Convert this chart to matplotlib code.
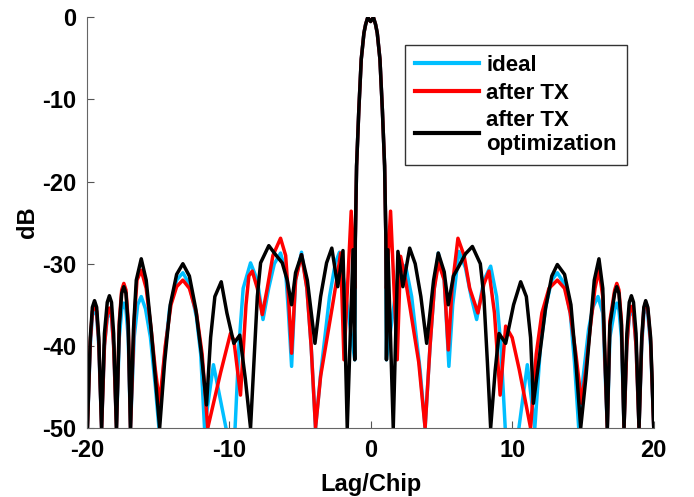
import numpy as np
import matplotlib
matplotlib.use('Agg')
import matplotlib.pyplot as plt

plt.rcParams['font.family'] = ['Liberation Sans', 'DejaVu Sans']
plt.rcParams['font.weight'] = 'bold'
plt.rcParams['axes.unicode_minus'] = False

# main lobe, shared by all three traces
lobe_x = [-1.08, -0.99, -0.83, -0.66, -0.47, -0.35, -0.2, 0.0, 0.2, 0.35, 0.47, 0.66, 0.83, 0.99, 1.08]
lobe_y = [-27.0, -18.1, -11.2, -5.1, -1.9, -0.85, 0.0, -0.5, 0.0, -0.85, -1.9, -5.1, -11.2, -18.1, -27.0]

# ideal
ideal_left_x = [-20.0, -19.8, -19.65, -19.5, -19.35, -19.2, -19.0, -18.8, -18.6, -18.45, -18.3, -18.15,
                -17.95, -17.75, -17.58, -17.43, -17.28, -17.12, -16.96, -16.7, -16.45, -16.2, -15.9,
                -15.55, -15.2, -14.95, -14.6, -14.2, -13.7, -13.26, -12.8, -12.3, -12.0, -11.73,
                -11.1, -10.1, -9.6, -9.3, -9.0, -8.48, -8.0, -7.6, -7.2, -6.8, -6.36, -6.0, -5.8,
                -5.58, -5.3, -4.88, -4.5, -4.2, -3.89, -3.5, -2.9, -2.5, -2.2, -1.9, -1.5, -1.12]
ideal_left_y = [-50, -40, -36.3, -35.5, -36.3, -40, -50, -40, -36.6, -35.8, -36.6, -40,
                -50, -39, -35.6, -34.8, -35.6, -39, -50, -39, -35, -34, -35.5,
                -39, -45, -50, -42, -35.5, -32, -31.1, -32.5, -36.5, -41, -50,
                -42.3, -51, -51, -40, -33, -29.9, -32, -36.8, -33, -30, -28.7, -31, -36,
                -42.5, -32, -28.6, -33, -40, -50, -43, -34, -30, -28.6, -32, -37, -41.7]
ideal_right_x = [1.12, 1.5, 1.9, 2.12, 2.5, 2.9, 3.5, 3.85, 4.2, 4.5, 4.78, 5.2, 5.53, 5.8, 6.24,
                 6.7, 7.1, 7.49, 8.0, 8.48, 8.9, 9.2, 9.54, 10.4, 11.07, 11.6, 12.0, 12.4, 12.8,
                 13.19, 13.7, 14.1, 14.4, 14.7, 15.0, 15.4, 15.7, 16.06, 16.4, 16.72, 16.9, 17.24,
                 17.39, 17.54, 17.72, 17.9, 18.1, 18.27, 18.42, 18.57, 18.75, 18.96, 19.15, 19.3,
                 19.43, 19.58, 19.78, 20.0]
ideal_right_y = [-41.7, -37, -32, -29.9, -30.5, -34, -43, -50, -40, -33, -28.7, -32, -42.5, -35, -28.5,
                 -30.5, -34, -36.8, -32, -30.3, -34, -40, -51, -51, -42.3, -50, -40, -35, -32,
                 -31.1, -32.5, -36, -42, -50, -44, -38, -35.3, -34, -36, -50, -39, -35.6,
                 -34.8, -35.6, -39, -50, -40, -36.4, -35.6, -36.4, -40, -50, -40, -36.1,
                 -35.3, -36.1, -40, -50]

# after TX
tx_left_x = [-20.0, -19.8, -19.65, -19.5, -19.35, -19.2, -19.0, -18.8, -18.6, -18.45, -18.3, -18.15,
             -17.95, -17.75, -17.58, -17.43, -17.28, -17.12, -16.96, -16.7, -16.5, -16.2, -15.85,
             -15.5, -15.2, -14.9, -14.5, -14.1, -13.7, -13.26, -12.8, -12.3, -11.9, -11.5,
             -10.6, -9.9, -9.66, -9.19, -8.8, -8.6, -8.36, -8.0, -7.65, -7.3, -6.9, -6.36,
             -6.0, -5.8, -5.58, -5.3, -4.88, -4.5, -4.2, -3.89, -3.53, -2.7, -2.35, -2.12,
             -1.88, -1.37, -1.12]
tx_left_y = [-50, -39.5, -35.8, -35, -35.8, -39.5, -50, -40, -36.2, -35.4, -36.2, -40,
             -50, -37, -33.2, -32.4, -33.2, -37, -50, -37, -32, -30.8, -33,
             -38, -43, -47, -40, -35, -32.8, -32, -33, -36, -41, -50,
             -43.3, -38.5, -39.3, -46, -35, -31.5, -30.9, -33, -36.2, -33, -29, -26.9,
             -29, -34, -40.9, -32, -28.9, -33, -40, -50, -43.7, -35.2, -31.5, -28.7,
             -41.7, -23.6, -33]
tx_right_x = [1.12, 1.41, 1.88, 2.12, 2.47, 2.8, 3.4, 3.85, 4.2, 4.5, 4.8, 5.2, 5.49, 5.75, 6.17,
              6.6, 7.0, 7.58, 8.0, 8.36, 8.75, 9.15, 9.54, 10.0, 10.5, 11.3, 11.7, 12.1, 12.6,
              13.19, 13.7, 14.1, 14.5, 14.9, 15.2, 15.5, 15.85, 16.13, 16.4, 16.72, 16.9, 17.24,
              17.39, 17.54, 17.72, 17.9, 18.1, 18.27, 18.42, 18.57, 18.75, 18.96, 19.15, 19.3,
              19.43, 19.58, 19.78, 20.0]
tx_right_y = [-33, -23.6, -41.7, -29.1, -32, -35.5, -42, -50, -40, -33, -29.9, -32, -40.5, -33, -26.9,
              -29, -33, -36, -32.5, -30.9, -36, -46, -37.6, -39, -42.9, -50, -41, -36, -33,
              -32, -33, -36, -41, -47, -43, -38, -33, -30.7, -34, -50, -37, -33.2,
              -32.4, -33.2, -37, -50, -40, -36, -35.2, -36, -40, -50, -39.5, -35.5,
              -34.7, -35.5, -39.5, -50]

# after TX optimization
opt_left_x = [-20.0, -19.8, -19.65, -19.5, -19.35, -19.2, -19.0, -18.8, -18.6, -18.45, -18.3, -18.15,
              -17.95, -17.75, -17.58, -17.43, -17.28, -17.12, -16.96, -16.75, -16.55, -16.2, -15.85,
              -15.5, -15.2, -14.9, -14.55, -14.15, -13.7, -13.26, -12.8, -12.35, -11.95, -11.59,
              -11.3, -11.0, -10.55, -10.15, -9.66, -9.24, -8.85, -8.48, -8.24, -8.0, -7.77,
              -7.19, -6.71, -6.24, -5.89, -5.58, -5.3, -4.88, -4.47, -3.93, -3.53, -3.11,
              -2.74, -2.32, -1.95, -1.65, -1.24, -1.12]
opt_left_y = [-50, -39, -35.3, -34.5, -35.3, -39, -50, -38.5, -34.7, -33.9, -34.7, -38.5,
              -50, -37.5, -33.6, -32.8, -33.6, -37.5, -50, -38, -32, -29.4, -32,
              -38, -44, -50, -42, -35, -31.3, -30, -31.5, -35.5, -41, -47.2,
              -39, -34, -32.2, -36, -39.7, -38.7, -44, -50, -42, -34, -29.9,
              -27.8, -28.9, -29.9, -32, -35, -31.1, -28.9, -32, -39.7, -34, -29.9,
              -28.1, -32.8, -28.4, -50, -28.3, -41.7]
opt_right_x = [1.12, 1.22, 1.6, 1.93, 2.28, 2.76, 3.15, 3.55, 3.96, 4.45, 4.78, 5.2, 5.49, 5.85,
               6.24, 6.7, 7.19, 7.75, 8.0, 8.25, 8.48, 8.8, 9.07, 9.54, 10.1, 10.6, 11.0, 11.3,
               11.5, 11.95, 12.35, 12.8, 13.19, 13.7, 14.15, 14.5, 14.84, 15.2, 15.5, 15.8,
               16.13, 16.4, 16.72, 16.9, 17.24, 17.39, 17.54, 17.72, 17.9, 18.1, 18.27, 18.42,
               18.57, 18.75, 18.96, 19.15, 19.3, 19.43, 19.58, 19.78, 20.0]
opt_right_y = [-41.7, -28.3, -50, -28.5, -32.8, -28.1, -30, -34, -39.7, -32, -28.7, -31, -35, -31.5,
               -30.3, -28.8, -27.9, -30, -34, -42, -50, -43, -38.5, -39.7, -35, -32.2, -34, -39,
               -47, -41, -35.5, -31.5, -30.1, -31.3, -35, -42, -50, -44, -38, -32,
               -29.4, -33, -50, -37.5, -33.6, -32.8, -33.6, -37.5, -50, -38.5, -34.7, -33.9,
               -34.7, -38.5, -50, -39, -35.3, -34.5, -35.3, -39, -50]

series = [
    ('ideal', '#00BFFF', ideal_left_x, ideal_left_y, ideal_right_x, ideal_right_y),
    ('after TX', '#FF0000', tx_left_x, tx_left_y, tx_right_x, tx_right_y),
    ('after TX\noptimization', '#000000', opt_left_x, opt_left_y, opt_right_x, opt_right_y),
]

fig = plt.figure(figsize=(6.94, 4.97), dpi=100)
ax = fig.add_axes([0.126, 0.139, 0.816, 0.826])

for label, color, lx, ly, rx, ry in series:
    x = np.array(lx + lobe_x + rx)
    y = np.array(ly + lobe_y + ry)
    ax.plot(x, y, color=color, lw=2.5, label=label)

ax.set_xlim(-20, 20)
ax.set_ylim(-50, 0)
ax.set_xticks([-20, -10, 0, 10, 20])
ax.set_yticks([0, -10, -20, -30, -40, -50])
ax.tick_params(direction='in', length=5, width=0.8, color='#555555',
               labelsize=17, pad=8)
for lbl in ax.get_xticklabels() + ax.get_yticklabels():
    lbl.set_fontweight('bold')
for side in ['top', 'right']:
    ax.spines[side].set_visible(False)
for side in ['left', 'bottom']:
    ax.spines[side].set_color('#666666')
    ax.spines[side].set_linewidth(0.8)

ax.set_xlabel('Lag/Chip', fontsize=17, fontweight='bold', labelpad=8)
ax.set_ylabel('dB', fontsize=17, fontweight='bold', labelpad=2)

leg = ax.legend(loc='upper right', bbox_to_anchor=(0.952, 0.933), borderaxespad=0,
                fontsize=16, frameon=True, fancybox=False, handlelength=2.9,
                handletextpad=0.3, borderpad=0.45, labelspacing=0.3)
leg.get_frame().set_edgecolor('black')
leg.get_frame().set_linewidth(1.0)
for t in leg.get_texts():
    t.set_fontweight('bold')
for h in leg.get_lines():
    h.set_linewidth(3)

fig.savefig('out.png', dpi=100)
